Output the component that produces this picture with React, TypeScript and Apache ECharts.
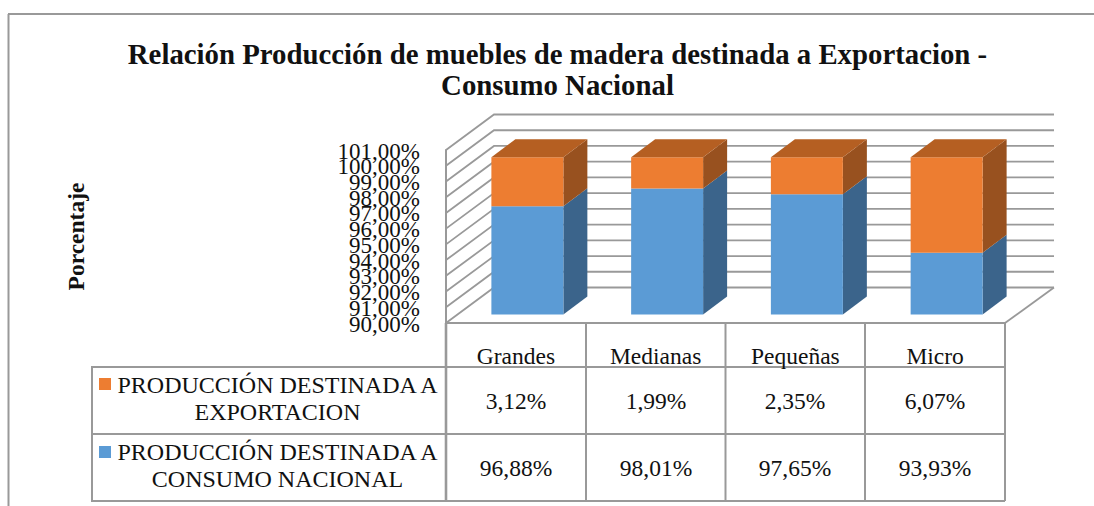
import React, { useEffect, useRef } from "react";
import * as echarts from "echarts";

const categories = ["Grandes", "Medianas", "Pequeñas", "Micro"];
const consumoNacional = [96.88, 98.01, 97.65, 93.93];
const exportacion = [3.12, 1.99, 2.35, 6.07];
const exportacionLabels = ["3,12%", "1,99%", "2,35%", "6,07%"];
const consumoLabels = ["96,88%", "98,01%", "97,65%", "93,93%"];
const yTicks = [90, 91, 92, 93, 94, 95, 96, 97, 98, 99, 100, 101];
const titleText = "Relación Producción de muebles de madera destinada a Exportacion -\nConsumo Nacional";

const FONT = "'Liberation Serif', 'Times New Roman', serif";
const LINE = "#999999";
const GL = 446, GR = 1005, GT = 150, GB = 323;
const DEPTH_X = 48, DEPTH_Y = 35.5;

function barRender(colors: { front: string; side: string; top: string }, drawTop: boolean) {
  return (params: any, api: any) => {
    const cat = api.value(0), lo = api.value(1), hi = api.value(2);
    const c0 = api.coord([cat, lo]);
    const c1 = api.coord([cat, hi]);
    const w = api.size([1, 0])[0] * 0.515;
    const ox = 11.5, oy = -8.5, dx = 24, dy = 18;
    const x0 = c0[0] + ox - w / 2, x1 = x0 + w;
    const yb = c0[1] + oy, yt = c1[1] + oy;
    const children: any[] = [
      { type: "polygon", shape: { points: [[x1, yb], [x1 + dx, yb - dy], [x1 + dx, yt - dy], [x1, yt]] }, style: { fill: colors.side } },
      { type: "rect", shape: { x: x0, y: yt, width: w, height: yb - yt }, style: { fill: colors.front } },
    ];
    if (drawTop) {
      children.push({ type: "polygon", shape: { points: [[x0, yt], [x1, yt], [x1 + dx, yt - dy], [x0 + dx, yt - dy]] }, style: { fill: colors.top } });
    }
    return { type: "group", children };
  };
}

function wallRender(params: any, api: any) {
  const v = api.value(0);
  const p = api.coord([0, v]);
  const y = p[1];
  return {
    type: "group",
    children: [
      {
        type: "polyline",
        shape: { points: [[GL, y], [GL + DEPTH_X, y - DEPTH_Y], [1054, y - DEPTH_Y]] },
        style: { fill: "none", stroke: LINE, lineWidth: 1.8 },
      },
      {
        type: "text",
        x: 420,
        y: y + 1,
        style: {
          text: v.toFixed(2).replace(".", ",") + "%",
          fill: "#111",
          font: `23px ${FONT}`,
          textAlign: "right",
          textVerticalAlign: "middle",
        },
      },
    ],
  };
}

function hLine(x1: number, x2: number, y: number, lw = 2) {
  return { type: "line", shape: { x1, y1: y, x2, y2: y }, style: { stroke: LINE, lineWidth: lw } };
}
function vLine(x: number, y1: number, y2: number, lw = 2) {
  return { type: "line", shape: { x1: x, y1, x2: x, y2 }, style: { stroke: LINE, lineWidth: lw } };
}
function cellText(text: string, x: number, y: number, size = 23.5) {
  return { type: "text", x, y, style: { text, fill: "#111", font: `${size}px ${FONT}`, textAlign: "center", textVerticalAlign: "middle" } };
}

export default function App() {
  const ref = useRef<HTMLDivElement>(null);
  useEffect(() => {
    const chart = echarts.init(ref.current!, undefined, { renderer: "svg" });
    const colXs = [516, 656, 795, 935];
    const graphic: any[] = [
      hLine(8, 1094, 14), vLine(8.5, 14, 506),
      { type: "line", shape: { x1: 1005, y1: 323, x2: 1054, y2: 287.5 }, style: { stroke: LINE, lineWidth: 1.8 } },
      hLine(91, GR, 367), hLine(91, GR, 434), hLine(91, GR, 501),
      vLine(92, 367, 501), vLine(GL, GB, 501, 2.6), vLine(586, GB, 501), vLine(725.5, GB, 501), vLine(865, GB, 501), vLine(GR, GB, 501),
      { type: "rect", shape: { x: 99, y: 378, width: 12, height: 12 }, style: { fill: "#ed7d31" } },
      { type: "rect", shape: { x: 99, y: 446, width: 12, height: 12 }, style: { fill: "#5b9bd5" } },
      cellText("PRODUCCIÓN DESTINADA A", 277.5, 385, 24),
      cellText("EXPORTACION", 277.5, 412, 24),
      cellText("PRODUCCIÓN DESTINADA A", 277.5, 452, 24),
      cellText("CONSUMO NACIONAL", 277.5, 479, 24),
    ];
    colXs.forEach((x, i) => {
      graphic.push(cellText(exportacionLabels[i], x, 401));
      graphic.push(cellText(consumoLabels[i], x, 468));
    });
    chart.setOption({
      animation: false,
      backgroundColor: "#fff",
      title: {
        text: titleText,
        left: 552.5, top: 33, textAlign: "center",
        textStyle: { fontFamily: FONT, fontWeight: "bold", fontSize: 28.8, color: "#111", lineHeight: 31 },
      },
      grid: { left: GL, top: GT, width: GR - GL, height: GB - GT, containLabel: false },
      xAxis: {
        type: "category", data: categories,
        axisTick: { show: false },
        axisLine: { show: true, lineStyle: { color: LINE, width: 2 } },
        axisLabel: { fontFamily: FONT, fontSize: 23.5, color: "#111", margin: 21 },
      },
      yAxis: {
        type: "value", min: 90, max: 101, interval: 1,
        name: "Porcentaje", nameLocation: "middle", nameGap: 358,
        nameTextStyle: { fontFamily: FONT, fontWeight: "bold", fontSize: 23.5, color: "#111" },
        splitLine: { show: false }, axisTick: { show: false },
        axisLine: { show: true, lineStyle: { color: LINE, width: 2 } },
        axisLabel: { show: false },
      },
      graphic,
      series: [
        { type: "custom", name: "grid", silent: true, z: 1, renderItem: wallRender, data: yTicks.map((v) => [v]), encode: { y: 0 } },
        {
          type: "custom", name: "PRODUCCIÓN DESTINADA A CONSUMO NACIONAL", z: 2,
          renderItem: barRender({ front: "#5b9bd5", side: "#3b648b", top: "#3b648b" }, false),
          data: consumoNacional.map((v, i) => [i, 90, v]), encode: { x: 0, y: [1, 2] },
        },
        {
          type: "custom", name: "PRODUCCIÓN DESTINADA A EXPORTACION", z: 3,
          renderItem: barRender({ front: "#ed7d31", side: "#98511f", top: "#b55f22" }, true),
          data: exportacion.map((v, i) => [i, consumoNacional[i], consumoNacional[i] + v]), encode: { x: 0, y: [1, 2] },
        },
      ],
    });
    return () => chart.dispose();
  }, []);
  return <div ref={ref} style={{ width: 1094, height: 506, position: "absolute", left: 0, top: 0 }} />;
}
